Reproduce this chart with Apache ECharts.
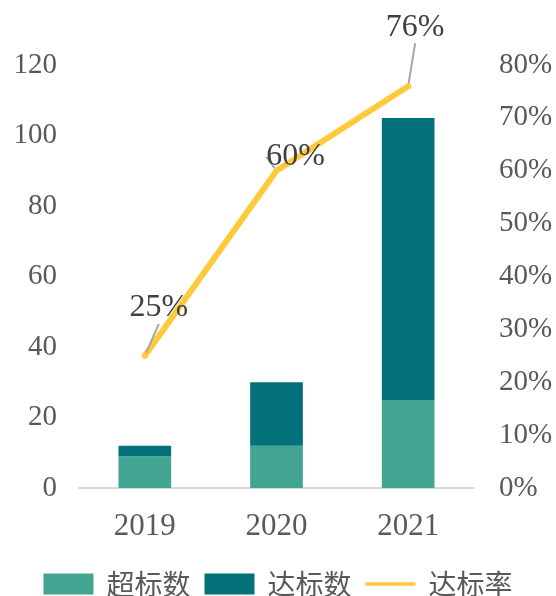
<!DOCTYPE html>
<html>
<head>
<meta charset="utf-8">
<script src="https://cdn.jsdelivr.net/npm/echarts@6/dist/echarts.min.js"></script>
<style>
  html, body { margin: 0; padding: 0; background: #fff; }
  #main { width: 556px; height: 596px; }
</style>
</head>
<body>
<div id="main"></div>
<script>
// data
var years = ['2019', '2020', '2021']
var overCount = [9, 12, 25]     // 超标数
var passCount = [3, 18, 80]     // 达标数
var passRate = [25, 60, 76]     // 达标率 (%)
var leftTicks = [0, 20, 40, 60, 80, 100, 120]
var rightTicks = [0, 10, 20, 30, 40, 50, 60, 70, 80]

// label nudges for the rate labels (dx, dy)
var labelShift = [[14, -24], [19, 10], [7, -35]]

var serif = '"Times New Roman", "Liberation Serif", serif'
var grey = '#595959'

var myChart = echarts.init(document.getElementById('main'))

myChart.setOption({
  animation: false,
  grid: { left: 79, right: 82, top: 65, bottom: 108 },
  legend: {
    left: 'center',
    top: 565,
    itemWidth: 50,
    itemHeight: 21,
    itemGap: 14,
    textStyle: {
      fontFamily: '"Noto Sans CJK SC", sans-serif',
      fontSize: 28,
      color: grey,
      padding: [0, 0, 0, 8]
    },
    data: [
      { name: '超标数', icon: 'rect' },
      { name: '达标数', icon: 'rect' },
      { name: '达标率', icon: 'path://M0,7 L100,7 L100,14 L0,14 Z' }
    ]
  },
  xAxis: {
    type: 'category',
    data: years,
    axisLine: { lineStyle: { color: '#D9D9D9', width: 2 } },
    axisTick: { show: false },
    axisLabel: { fontFamily: serif, fontSize: 31, color: grey, margin: 23 }
  },
  yAxis: [
    {
      type: 'value',
      min: leftTicks[0],
      max: leftTicks[leftTicks.length - 1],
      interval: 20,
      splitLine: { show: false },
      axisLine: { show: false },
      axisTick: { show: false },
      axisLabel: { fontFamily: serif, fontSize: 29, color: grey, margin: 22 }
    },
    {
      type: 'value',
      min: rightTicks[0],
      max: rightTicks[rightTicks.length - 1],
      interval: 10,
      splitLine: { show: false },
      axisLine: { show: false },
      axisTick: { show: false },
      axisLabel: { fontFamily: serif, fontSize: 29, color: grey, margin: 25, formatter: '{value}%' }
    }
  ],
  series: [
    {
      name: '超标数',
      type: 'bar',
      stack: 'total',
      barWidth: '40%',
      itemStyle: { color: '#42A591' },
      data: overCount
    },
    {
      name: '达标数',
      type: 'bar',
      stack: 'total',
      barWidth: '40%',
      itemStyle: { color: '#03717A' },
      data: passCount
    },
    {
      name: '达标率',
      type: 'line',
      yAxisIndex: 1,
      symbol: 'circle',
      symbolSize: 6,
      lineStyle: { color: '#FFC93C', width: 6, cap: 'round' },
      itemStyle: { color: '#FFC93C' },
      label: {
        show: true,
        position: 'top',
        formatter: '{c}%',
        fontFamily: serif,
        fontSize: 32,
        color: '#404040'
      },
      labelLine: {
        show: true,
        lineStyle: { color: '#A6A6A6', width: 2 }
      },
      labelLayout: function (params) {
        var s = labelShift[params.dataIndex]
        return { dx: s[0], dy: s[1] }
      },
      data: passRate
    }
  ]
})
</script>
</body>
</html>
